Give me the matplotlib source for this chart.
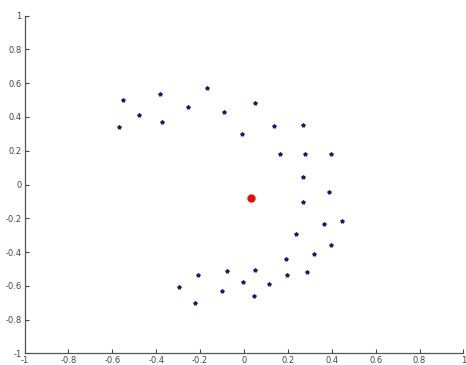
import matplotlib
matplotlib.use('Agg')
import matplotlib.pyplot as plt

# blue points (crescent)
xs = [-0.553, -0.568, -0.478, -0.381, -0.374, -0.255, -0.169, -0.091,
      -0.008, 0.050, 0.138, 0.270, 0.163, 0.278, 0.398, 0.270,
      0.386, 0.270, 0.363, 0.448, 0.237, 0.398, 0.320, 0.190,
      0.050, 0.197, 0.286, -0.003, 0.115, 0.047,
      -0.208, -0.079, -0.296, -0.100, -0.222]
ys = [0.502, 0.342, 0.409, 0.536, 0.368, 0.457, 0.573, 0.427,
      0.301, 0.480, 0.344, 0.352, 0.179, 0.180, 0.179, 0.044,
      -0.042, -0.105, -0.234, -0.218, -0.295, -0.358, -0.413, -0.443,
      -0.504, -0.537, -0.520, -0.579, -0.591, -0.662,
      -0.536, -0.510, -0.607, -0.630, -0.703]

# red centre point
cx = [0.030]
cy = [-0.080]

ticks = [-1, -0.8, -0.6, -0.4, -0.2, 0, 0.2, 0.4, 0.6, 0.8, 1]
labels = ['-1', '-0.8', '-0.6', '-0.4', '-0.2', '0', '0.2', '0.4', '0.6', '0.8', '1']

fig = plt.figure(figsize=(4.66, 3.65), dpi=100)
ax = fig.add_axes([0.0526, 0.032, 0.942, 0.925])

ax.plot(xs, ys, linestyle='none', marker='*', markersize=2.8, color='#1a1a70')
ax.plot(cx, cy, linestyle='none', marker='o', markersize=5, color='#e01010')

ax.set_xlim(-1, 1)
ax.set_ylim(-1, 1)
ax.set_xticks(ticks)
ax.set_xticklabels(labels)
ax.set_yticks(ticks)
ax.set_yticklabels(labels)
ax.tick_params(direction='in', length=3, width=0.8, labelsize=6, colors='#444444', pad=2)

for s in ['top', 'right']:
    ax.spines[s].set_visible(False)
for s in ['left', 'bottom']:
    ax.spines[s].set_color('#555555')
    ax.spines[s].set_linewidth(0.9)

fig.savefig('out.png', dpi=100)
